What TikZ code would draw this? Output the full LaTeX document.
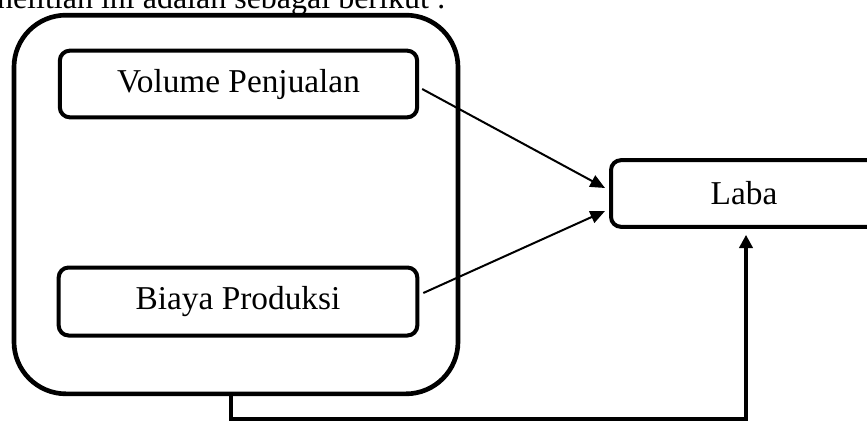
\documentclass[tikz,border=0pt]{standalone}
\usepackage{fontspec}
\setmainfont{Liberation Serif}
\usetikzlibrary{calc,arrows.meta}

\tikzset{
  outerbox/.style={draw, line width=3.5pt, rounded corners=39pt, minimum width=333pt, minimum height=284pt, inner sep=0pt},
  varbox/.style={draw, line width=3pt, rounded corners=7.5pt, minimum height=50pt, inner sep=0pt, font=\fontsize{25}{30}\selectfont},
  arr/.style={line width=1.5pt, -{Triangle[length=11pt, width=9.5pt]}},
  fback/.style={line width=3pt, -{Triangle[length=10pt, width=10pt]}}
}

\begin{document}
\begin{tikzpicture}[x=0.75pt,y=0.75pt,yscale=-1,xscale=1]
\useasboundingbox (0,0) rectangle (867,421);

%Text cut at the top
\node [anchor=base east, inner sep=0pt, font=\fontsize{24}{29}\selectfont] (intro) at (446,8) {penelitian ini adalah sebagai berikut :};

%Rounded Rect: group
\node [outerbox] (grp) at (236,204.5) {};
%Rounded Rect: variables
\node [varbox, minimum width=268pt] (vol) at (238.5,84) {Volume Penjualan};
\node [varbox, minimum width=269pt, minimum height=51pt] (biaya) at (238,301.5) {Biaya Produksi};
\node [varbox, minimum width=199.5pt] (laba) at (744,193.5) {Laba};

%Straight Lines
\draw [arr] ($(vol.east)+(3,5)$) -- ($(laba.west)+(-4,-5.5)$);
\draw [arr] ($(biaya.east)+(4,-8.5)$) -- ($(laba.west)+(-4,17.5)$);

%Feedback line
\coordinate (fbstart) at ($(grp.south)+(-5,-3)$);
\coordinate (fbend) at ($(laba.south)+(2,6)$);
\draw [fback] (fbstart) -- ++(0,26) -| (fbend);

\end{tikzpicture}
\end{document}
